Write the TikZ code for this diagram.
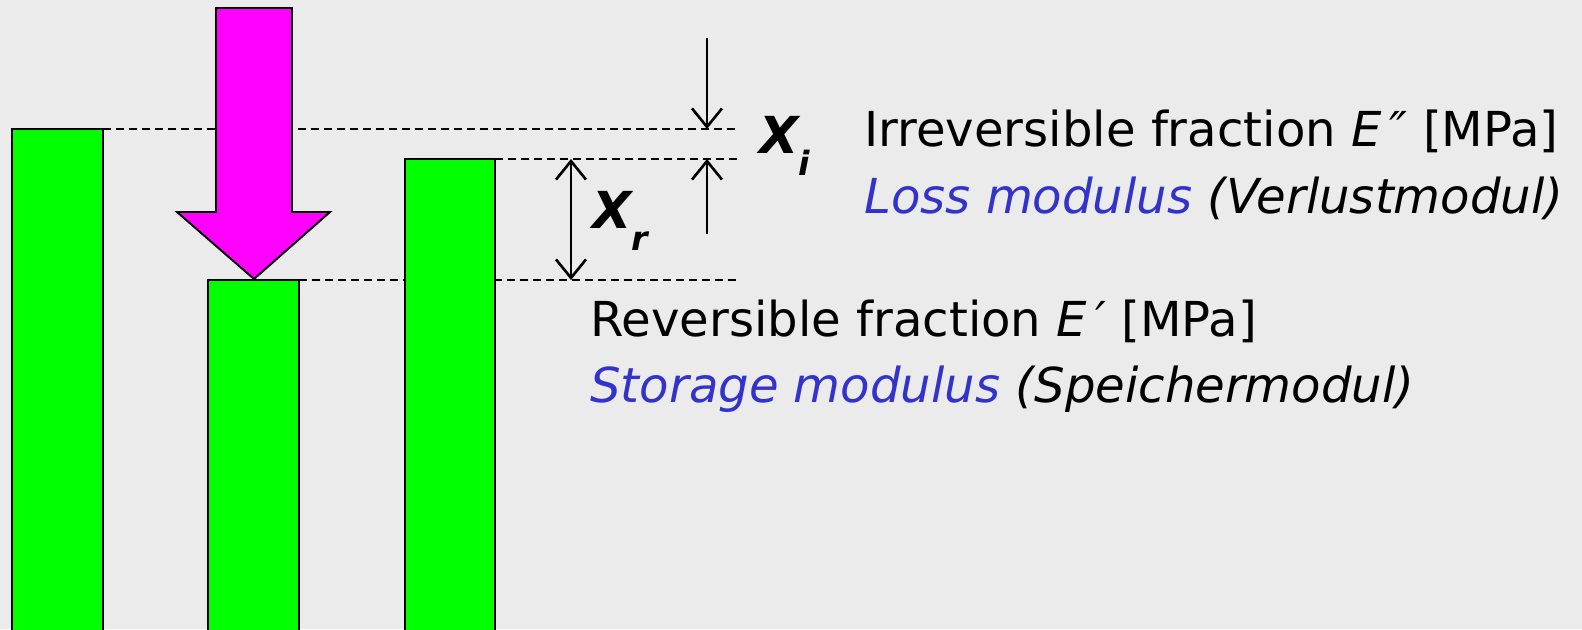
\documentclass[tikz,border=0pt]{standalone}
\usepackage{fontspec}
\setmainfont{DejaVu Sans}
\usetikzlibrary{arrows.meta}
\definecolor{bggray}{HTML}{EBEBEB}
\definecolor{bargreen}{HTML}{00FF00}
\definecolor{loadmagenta}{HTML}{FF00FF}
\definecolor{termblue}{HTML}{3333CC}

\begin{document}
\begin{tikzpicture}[
    x=0.02cm, y=-0.02cm,
    bar/.style={fill=bargreen, draw=black, line width=1.1pt},
    level/.style={dash pattern=on 0.165cm off 0.095cm, line width=0.95pt},
    barb/.style={Straight Barb[length=0.37cm, width=0.6cm]},
    dimarrow/.style={line width=1.5pt, -{Straight Barb[length=0.37cm, width=0.6cm]}},
    symlbl/.style={font=\fontsize{29}{30}\selectfont\bfseries\itshape, anchor=base west, inner sep=0pt},
    desc/.style={font=\fontsize{27.4}{30}\selectfont, anchor=base west, inner sep=0pt},
]

\useasboundingbox (0,0) rectangle (1582,629);
\fill[bggray] (0,0) rectangle (1582,629);

\begin{scope}
  \clip (0,0) rectangle (1582,629);

  % reference levels
  \coordinate (lvlA) at (738,129);
  \coordinate (lvlB) at (738,159);
  \coordinate (lvlC) at (738,280);
  \draw[level] (103,129) -- (lvlA);
  \draw[level] (495,159) -- (lvlB);
  \draw[level] (299,280) -- (lvlC);

  % specimens
  \draw[bar] (12,129) rectangle (103,650);
  \draw[bar] (208,280) rectangle (299,650);
  \draw[bar] (405,159) rectangle (495,650);

  % load
  \draw[fill=loadmagenta, line width=1.1pt]
    (216,8) -- (292,8) -- (292,212) -- (330,212) -- (254,279)
    -- (177,212) -- (216,212) -- cycle;
\end{scope}

% dimension arrows
\coordinate (xiTop) at (707,38);
\coordinate (xiBot) at (707,234);
\draw[dimarrow] (xiTop) -- (707,129);
\draw[dimarrow] (xiBot) -- (707,159);
\draw[dimarrow, {Straight Barb[length=0.37cm, width=0.6cm]}-{Straight Barb[length=0.37cm, width=0.6cm]}]
  (571,159) -- (571,280);

% symbols
\node[symlbl] (xi) at (759,153) {X\raisebox{-0.45em}{\fontsize{19}{20}\selectfont i}};
\node[symlbl] (xr) at (592,228) {X\raisebox{-0.45em}{\fontsize{19}{20}\selectfont r}};

% descriptions
\node[desc] (irr) at (864,146.5) {Irreversible fraction \textit{E}\,\textit{″} [MPa]};
\node[desc, termblue] (loss) at (864,213) {\textit{Loss modulus} \textcolor{black}{\textit{(Verlustmodul)}}};
\node[desc] (rev) at (590,336) {Reversible fraction \textit{E}\,\textit{′} [MPa]};
\node[desc, termblue] (stor) at (590,402) {\textit{Storage modulus} \textcolor{black}{\textit{(Speichermodul)}}};

\end{tikzpicture}
\end{document}
